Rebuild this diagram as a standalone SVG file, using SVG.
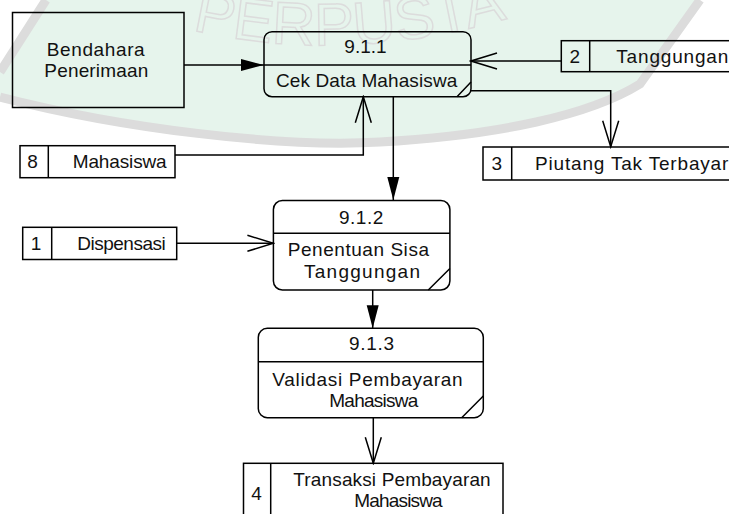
<svg xmlns="http://www.w3.org/2000/svg" width="729" height="514" viewBox="0 0 729 514">
<style>
.box{fill:none;stroke:#000;stroke-width:1.5}
.ln{fill:none;stroke:#000;stroke-width:1.5}
.t{font-family:"Liberation Sans",Arial,sans-serif;font-size:19px;fill:#111}
.c{text-anchor:middle}
.wm{fill:none;stroke:#dcdcdc}
</style>
<defs>
<marker id="af" markerUnits="userSpaceOnUse" viewBox="0 -7 24 14" markerWidth="24" markerHeight="14" refX="23" refY="0" orient="auto">
<path d="M0,-6 L23,0 L0,6 Z" fill="#000"/>
</marker>
<marker id="ao" markerUnits="userSpaceOnUse" viewBox="-1 -10 29 20" markerWidth="29" markerHeight="20" refX="26" refY="0" orient="auto">
<path d="M0,-8 L26,0 L0,8" fill="none" stroke="#000" stroke-width="1.5"/>
</marker>
<path id="wmArc" d="M192,30 Q372,72 570,-2"/>
</defs>
<rect width="729" height="514" fill="#fff"/>
<g id="watermark">
<path d="M46,0 L700,0 L640,84 C590,115 500,135 380,142 C280,148 120,128 0,97 L0,72 Z" fill="#e6f4ec"/>
<path class="wm" stroke-width="9" d="M46,0 L0,72 M0,97 C120,128 280,148 380,142 C500,135 590,115 640,84 L700,0"/>
<text class="wm" font-family="Liberation Sans,Arial,sans-serif" font-size="60" stroke-width="1.5" fill="none" stroke="#cfcfcf"><textPath href="#wmArc">PERPUSTA</textPath></text>
</g>
<g id="connectors">
<path class="ln" d="M184,65 L264,65" marker-end="url(#af)"/>
<path class="ln" d="M561,61 L471,61" marker-end="url(#ao)"/>
<path class="ln" d="M471,90.7 L610.7,90.7 L610.7,146.7" marker-end="url(#ao)"/>
<path class="ln" d="M175,155 L363.3,155 L363.3,96.7" marker-end="url(#ao)"/>
<path class="ln" d="M393.3,96.7 L393.3,200" marker-end="url(#af)"/>
<path class="ln" d="M176.7,243.3 L273.4,243.3" marker-end="url(#ao)"/>
<path class="ln" d="M372.7,290 L372.7,328.3" marker-end="url(#af)"/>
<path class="ln" d="M373.3,417.7 L373.3,463.3" marker-end="url(#ao)"/>
</g>
<g id="bendahara">
<rect class="box" x="12.5" y="12.5" width="171.5" height="95"/>
<text class="t" x="46.7" y="56" textLength="98" lengthAdjust="spacing">Bendahara</text>
<text class="t" x="44.3" y="77.3" textLength="104" lengthAdjust="spacing">Penerimaan</text>
</g>
<g id="p911">
<rect class="box" x="264" y="31.7" width="207" height="65" rx="8"/>
<path class="ln" d="M264,65 L471,65 M457,96.7 L471,82"/>
<text class="t" x="344.3" y="53.3" textLength="42.4" lengthAdjust="spacing">9.1.1</text>
<text class="t" x="276" y="86.7" textLength="181.3" lengthAdjust="spacing">Cek Data Mahasiswa</text>
</g>
<g id="ds2">
<rect class="box" x="561.3" y="40.7" width="175" height="31"/>
<path class="ln" d="M589.7,40.7 L589.7,71.7"/>
<text class="t c" x="574.7" y="63">2</text>
<text class="t" x="616.3" y="63" textLength="112" lengthAdjust="spacing">Tanggungan</text>
</g>
<g id="ds3">
<rect class="box" x="483" y="147" width="255" height="33"/>
<path class="ln" d="M511.7,147 L511.7,180"/>
<text class="t c" x="496.8" y="169.5">3</text>
<text class="t" x="535" y="169.5" textLength="193.3" lengthAdjust="spacing">Piutang Tak Terbayar</text>
</g>
<g id="ds8">
<rect class="box" x="20" y="145.7" width="155" height="32"/>
<path class="ln" d="M48.3,145.7 L48.3,177.7"/>
<text class="t c" x="32.5" y="168">8</text>
<text class="t" x="72.7" y="168" textLength="94" lengthAdjust="spacing">Mahasiswa</text>
</g>
<g id="ds1">
<rect class="box" x="22.7" y="227.3" width="154" height="32.2"/>
<path class="ln" d="M51.7,227.3 L51.7,259.5"/>
<text class="t c" x="36" y="250">1</text>
<text class="t" x="77.3" y="250" textLength="88.4" lengthAdjust="spacing">Dispensasi</text>
</g>
<g id="p912">
<rect class="box" x="273.4" y="200.5" width="176.5" height="89.5" rx="9"/>
<path class="ln" d="M273.4,233.3 L449.9,233.3 M428.3,290 L449.9,268.5"/>
<text class="t" x="339" y="224.3" textLength="44.3" lengthAdjust="spacing">9.1.2</text>
<text class="t" x="287.7" y="256" textLength="141.3" lengthAdjust="spacing">Penentuan Sisa</text>
<text class="t" x="304" y="278" textLength="116" lengthAdjust="spacing">Tanggungan</text>
</g>
<g id="p913">
<rect class="box" x="258.3" y="328.3" width="225" height="89.4" rx="9"/>
<path class="ln" d="M258.3,361.7 L483.3,361.7 M461.7,417.7 L483.3,396"/>
<text class="t" x="349" y="350" textLength="45" lengthAdjust="spacing">9.1.3</text>
<text class="t" x="272.3" y="386" textLength="190.4" lengthAdjust="spacing">Validasi Pembayaran</text>
<text class="t" x="329.3" y="406.7" textLength="89" lengthAdjust="spacing">Mahasiswa</text>
</g>
<g id="ds4">
<rect class="box" x="243.5" y="463.3" width="259.5" height="60"/>
<path class="ln" d="M270.7,463.3 L270.7,523"/>
<text class="t c" x="256.5" y="499.5">4</text>
<text class="t" x="293.3" y="485.7" textLength="197.4" lengthAdjust="spacing">Transaksi Pembayaran</text>
<text class="t" x="354.3" y="507.3" textLength="88.4" lengthAdjust="spacing">Mahasiswa</text>
</g>
</svg>
